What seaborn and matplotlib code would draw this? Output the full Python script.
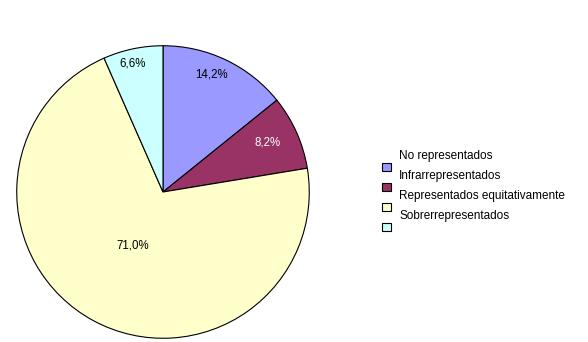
import numpy as np
import matplotlib
matplotlib.use("Agg")
import matplotlib.pyplot as plt
from matplotlib.patches import Rectangle
import seaborn as sns

categories = ["No representados", "Infrarrepresentados",
              "Representados equitativamente", "Sobrerrepresentados"]
values = [14.2, 8.2, 71.0, 6.6]
pct_labels = ["14,2%", "8,2%", "71,0%", "6,6%"]
colors = ["#9999FF", "#993366", "#FFFFCC", "#CCFFFF"]
label_colors = ["black", "white", "black", "black"]
label_radius = [0.87, 0.79, 0.42, 0.9]
label_angle_shift = [3.0, 1.0, -1.5, 1.5]

sns.set_style("white")
plt.rcParams["font.family"] = ["Liberation Sans", "DejaVu Sans"]

W, H = 588, 342
fig = plt.figure(figsize=(W / 100, H / 100), dpi=100)
cx, cy, r = 163, 192, 147
ax = fig.add_axes([(cx - r) / W, (H - cy - r) / H, 2 * r / W, 2 * r / H])
wedges, _ = ax.pie(values, colors=colors, startangle=90, counterclock=False,
                   radius=1, wedgeprops=dict(edgecolor="black", linewidth=0.8))
ax.set_xlim(-1.005, 1.005)
ax.set_ylim(-1.005, 1.005)
ax.set_aspect("equal")
ax.axis("off")

for w, lab, col, rr, da in zip(wedges, pct_labels, label_colors,
                               label_radius, label_angle_shift):
    ang = np.deg2rad((w.theta1 + w.theta2) / 2 + da)
    ax.text(rr * np.cos(ang), rr * np.sin(ang), lab, ha="center", va="center",
            fontsize=8.3, color=col)

# legend (Excel-style, labels offset above boxes)
for i, (cat, col) in enumerate(zip(categories, colors)):
    by = 163 + 20 * i
    fig.add_artist(Rectangle((382 / W, 1 - (by + 8) / H), 9 / W, 8 / H,
                             transform=fig.transFigure, facecolor=col,
                             edgecolor="black", linewidth=0.8))
    fig.text(399 / W, 1 - (156 + 20 * i) / H, cat, ha="left", va="center",
             fontsize=8.5, color="black")

fig.savefig("out.png", dpi=100, facecolor="white")
